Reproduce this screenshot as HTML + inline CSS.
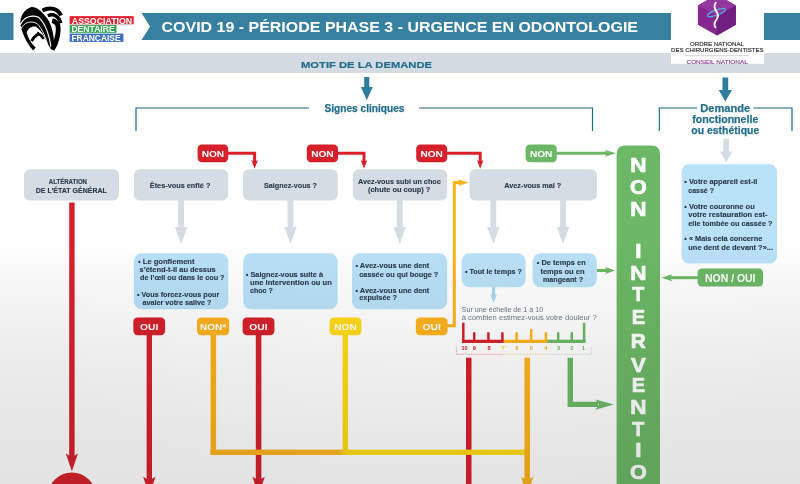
<!DOCTYPE html>
<html lang="fr">
<head>
<meta charset="utf-8">
<title>COVID 19 - Période phase 3 - Urgence en odontologie</title>
<style>
html,body{margin:0;padding:0;background:#fff;}
body{width:800px;height:484px;overflow:hidden;font-family:"Liberation Sans",sans-serif;}
svg{display:block;position:absolute;left:0;top:0;}
text{font-family:"Liberation Sans",sans-serif;}
.b{font-weight:bold;}
.dk{fill:#2b394c;stroke:#2b394c;stroke-width:0.12px;}
.tl{fill:#256e8e;}
.w{fill:#fff;}
</style>
</head>
<body>
<svg width="800" height="484" viewBox="0 0 800 484">
<defs>
<linearGradient id="bg" x1="0" y1="0" x2="0" y2="1">
<stop offset="0" stop-color="#ffffff"/>
<stop offset="0.50" stop-color="#ffffff"/>
<stop offset="0.60" stop-color="#f5f5f5"/>
<stop offset="0.68" stop-color="#f0f0f0"/>
<stop offset="0.765" stop-color="#ebebeb"/>
<stop offset="0.91" stop-color="#e5e5e5"/>
<stop offset="1" stop-color="#e3e3e3"/>
</linearGradient>
<radialGradient id="hl" cx="0.5" cy="0.5" r="0.5">
<stop offset="0" stop-color="#fff" stop-opacity="0.25"/>
<stop offset="1" stop-color="#fff" stop-opacity="0"/>
</radialGradient>
<linearGradient id="hz" x1="210" y1="0" x2="530" y2="0" gradientUnits="userSpaceOnUse">
<stop offset="0" stop-color="#fdb31d"/>
<stop offset="0.40" stop-color="#fdb31d"/>
<stop offset="0.43" stop-color="#ffdb12"/>
<stop offset="1" stop-color="#ffdb12"/>
</linearGradient>
</defs>
<rect x="0" y="0" width="800" height="484" fill="#fff"/>

<!-- ===== HEADER ===== -->
<g id="header">
<rect x="0" y="13" width="13.5" height="27" fill="#38809f"/>
<path d="M141.5 13 H671 V40 H141.5 L150 26.5 Z" fill="#38809f"/>
<rect x="764" y="13" width="36" height="27" fill="#38809f"/>
<text x="161.5" y="32.1" class="b w" font-size="15" textLength="476.5" lengthAdjust="spacingAndGlyphs">COVID 19 - PÉRIODE PHASE 3 - URGENCE EN ODONTOLOGIE</text>
<!-- grey band -->
<rect x="0" y="53" width="800" height="20" fill="#d4dbe3"/>
<text x="301" y="67.5" class="b tl" stroke="#256e8e" stroke-width="0.2" font-size="9.7" textLength="131" lengthAdjust="spacingAndGlyphs">MOTIF DE LA DEMANDE</text>
</g>

<!-- ===== ADF LOGO ===== -->
<g id="adf">
<g transform="translate(14,0) scale(0.1157)" fill="none" stroke-linecap="butt">
<path d="M165 436 C110 372 70 292 56 212 C48 140 90 80 146 62 C200 56 252 108 300 180 C336 250 352 340 346 428 L322 428 C300 400 286 370 272 340 C256 300 230 262 192 232 C156 222 122 240 110 282 C124 336 154 380 188 410 Z" fill="#000"/>
<path d="M54 214 C86 146 150 124 214 150 C266 200 306 300 322 424" stroke="#fff" stroke-width="10"/>
<path d="M58 252 C86 190 150 176 200 204 C246 250 282 340 298 416" stroke="#fff" stroke-width="8"/>
<path d="M152 356 C166 326 184 308 212 294" stroke="#000" stroke-width="24"/>
<path d="M200 282 C226 296 244 314 256 338" stroke="#000" stroke-width="20"/>
<path d="M246 90 C310 58 380 74 406 134" stroke="#000" stroke-width="34"/>
<path d="M292 136 C346 114 390 142 404 200" stroke="#000" stroke-width="30"/>
<path d="M330 178 C378 188 390 222 378 300 C370 346 354 392 330 428" stroke="#000" stroke-width="42"/>
</g>
<rect x="69.6" y="16.1" width="64.1" height="8.2" fill="#e1242f"/>
<rect x="69.6" y="25.1" width="46.9" height="7.7" fill="#2ea650"/>
<rect x="69.6" y="33.6" width="53.8" height="8.3" fill="#3c6fc2"/>
<text x="71.8" y="23.6" class="b w" font-size="8.7" textLength="60.3" lengthAdjust="spacingAndGlyphs">ASSOCIATION</text>
<text x="71.4" y="32.4" class="b w" font-size="8.7" textLength="43.3" lengthAdjust="spacingAndGlyphs">DENTAIRE</text>
<text x="71.4" y="41.1" class="b w" font-size="8.7" textLength="49.2" lengthAdjust="spacingAndGlyphs">FRANÇAISE</text>
</g>

<!-- ===== ORDRE LOGO ===== -->
<g id="ordre">
<rect x="671" y="0" width="93" height="63.8" fill="#fff"/>
<path d="M716.9 -5.3 L735.9 5.4 V24.8 L716.9 35.5 L697.9 24.8 V5.4 Z" fill="#84288f"/>
<path d="M716.9 15 L735.9 5.4 V24.8 L716.9 35.5 Z" fill="#712081"/>
<path d="M716.9 15 L697.9 5.4 L716.9 -5.3 L735.9 5.4 Z" fill="#93389f"/>
<ellipse cx="716.4" cy="12.6" rx="9.5" ry="2.6" fill="none" stroke="#57a6e6" stroke-width="1.2" transform="rotate(-20 716.4 12.6)"/>
<path d="M715.8 2.6 C713 6 714.6 9 717 12.4 C719.4 16 717 19 715 22 C714 24 714.6 26 715.6 27.4" fill="none" stroke="#fff" stroke-width="1.8" stroke-linecap="round"/>
<text x="690" y="45.8" font-size="6" fill="#333" stroke="#333" stroke-width="0.18" textLength="54" lengthAdjust="spacingAndGlyphs">ORDRE NATIONAL</text>
<text x="671.1" y="52.3" font-size="6" fill="#333" stroke="#333" stroke-width="0.18" textLength="92.5" lengthAdjust="spacingAndGlyphs">DES CHIRURGIENS-DENTISTES</text>
<rect x="684.8" y="55.5" width="63.7" height="0.6" fill="#b9b9b9"/>
<text x="686.5" y="63.5" font-size="6" fill="#8a3a98" stroke="#8a3a98" stroke-width="0.12" textLength="61.3" lengthAdjust="spacingAndGlyphs">CONSEIL NATIONAL</text>
</g>

<!-- ===== TOP ARROWS + BRACKETS ===== -->
<g id="top">
<path d="M364.2 77 H369.3 V87 H372.8 L366.8 100 L360.8 87 H364.2 Z" fill="#2f7d9f"/>
<path d="M722.5 77.5 H728.2 V90 H732 L725.3 101.5 L718.7 90 H722.5 Z" fill="#2f7d9f"/>
<path d="M136 131 V108 H309" fill="none" stroke="#1b6585" stroke-width="1.15"/>
<path d="M419 108 H592.5 V131" fill="none" stroke="#1b6585" stroke-width="1.15"/>
<text x="324.5" y="111.6" class="b tl" stroke="#256e8e" stroke-width="0.25" font-size="10" textLength="80" lengthAdjust="spacingAndGlyphs">Signes cliniques</text>
<path d="M659.3 131 V108 H697" fill="none" stroke="#1b6585" stroke-width="1.15"/>
<path d="M753.5 108 H792 V131" fill="none" stroke="#1b6585" stroke-width="1.15"/>
<text x="725.3" y="111.6" class="b tl" stroke="#256e8e" stroke-width="0.25" font-size="10" text-anchor="middle" textLength="50" lengthAdjust="spacingAndGlyphs">Demande</text>
<text x="725.3" y="123.1" class="b tl" stroke="#256e8e" stroke-width="0.25" font-size="10" text-anchor="middle" textLength="66" lengthAdjust="spacingAndGlyphs">fonctionnelle</text>
<text x="725.3" y="134.3" class="b tl" stroke="#256e8e" stroke-width="0.25" font-size="10" text-anchor="middle" textLength="68" lengthAdjust="spacingAndGlyphs">ou esthétique</text>
</g>

<!-- ===== GREY DOWN ARROWS ===== -->
<g id="garrows" fill="#d5dce3">
<path d="M178.2 200 H184 V227 H187.3 L181.1 244 L174.9 227 H178.2 Z"/>
<path d="M287.6 200 H293.4 V227 H296.7 L290.5 244 L284.3 227 H287.6 Z"/>
<path d="M396.8 200 H402.6 V227 H405.9 L399.7 244 L393.5 227 H396.8 Z"/>
<path d="M490.4 200 H496.2 V227 H499.5 L493.3 244 L487.1 227 H490.4 Z"/>
<path d="M560.1 200 H565.9 V227 H569.2 L563 244 L556.8 227 H560.1 Z"/>
<path d="M723.3 138.8 H729.1 V151.5 H732.4 L726.2 162.3 L720 151.5 H723.3 Z"/>
</g>

<!-- ===== LINES ===== -->
<g id="lines">
<!-- red: alteration -->
<rect x="69.2" y="202.5" width="5.4" height="256" fill="#d6212c"/>
<path d="M65.8 453.5 L71.9 457 L78 453.5 L71.9 471.3 Z" fill="#d6212c"/>
<circle cx="71.9" cy="496.5" r="24" fill="#d6212c"/>
<!-- red: OUI 1 -->
<rect x="146.6" y="334" width="5.4" height="150" fill="#d6212c"/>
<path d="M143.1 476.7 L149.3 480.3 L155.5 476.7 L149.3 495 Z" fill="#d6212c"/>
<!-- red: OUI 2 -->
<rect x="255.8" y="334" width="5.6" height="150" fill="#d6212c"/>
<path d="M252.4 476.7 L258.6 480.3 L264.8 476.7 L258.6 495 Z" fill="#d6212c"/>
<!-- red: scale 10 -->
<rect x="466" y="357.7" width="5.5" height="127" fill="#d6212c"/>
<!-- orange NON* vertical -->
<rect x="210.6" y="334" width="5.5" height="121" fill="#fdb31d"/>
<!-- yellow NON vertical -->
<rect x="342.6" y="334" width="5.4" height="121" fill="#ffdb12"/>
<!-- horizontal join -->
<rect x="210.6" y="449.6" width="316" height="5.4" fill="url(#hz)"/>
<!-- orange: scale 5 -->
<rect x="524.4" y="357.7" width="5.6" height="126.3" fill="#fdb31d"/>
<path d="M521 476.7 L527.2 480.3 L533.4 476.7 L527.2 495 Z" fill="#fdb31d"/>
<!-- green scale -> bar -->
<path d="M567.6 357.7 H573 V401.8 H598 V407.1 H567.6 Z" fill="#6cb866"/>
<path d="M595.5 399.4 L613.8 404.5 L595.5 409.8 L599 404.5 Z" fill="#6cb866"/>
<!-- orange OUI3 -> Avez-vous mal -->
<path d="M447 325.8 H454.3 V182.6 H460" fill="none" stroke="#fdb31d" stroke-width="3"/>
<path d="M458 179.2 L468.8 182.6 L458 186 L460.2 182.6 Z" fill="#fdb31d"/>
<!-- red NON arrows -->
<g fill="none" stroke="#d6212c" stroke-width="3">
<path d="M227 153.3 H254.6 V162"/>
<path d="M337 153.3 H364 V162"/>
<path d="M446 153.3 H480.2 V162"/>
</g>
<g fill="#d6212c">
<path d="M251.3 160 L254.6 162 L257.9 160 L254.6 168.8 Z"/>
<path d="M360.7 160 L364 162 L367.3 160 L364 168.8 Z"/>
<path d="M476.9 160 L480.2 162 L483.5 160 L480.2 168.8 Z"/>
</g>
<!-- green NON arrow -->
<path d="M556 153.2 H607" fill="none" stroke="#6cb866" stroke-width="3"/>
<path d="M604.8 149.7 L616 153.2 L604.8 156.7 L607 153.2 Z" fill="#6cb866"/>
<!-- green de temps en temps arrow -->
<path d="M596.5 270.5 H607" fill="none" stroke="#6cb866" stroke-width="3"/>
<path d="M605 267.1 L615.3 270.5 L605 273.9 L607 270.5 Z" fill="#6cb866"/>
<!-- green NON/OUI arrow -->
<path d="M700 277.7 H670" fill="none" stroke="#6cb866" stroke-width="3"/>
<path d="M672.3 274.2 L661.3 277.7 L672.3 281.2 L670 277.7 Z" fill="#6cb866"/>
<!-- small blue arrow -->
<path d="M492 287 H495.2 V294.5 H497 L493.6 302.8 L490.2 294.5 H492 Z" fill="#a9d7f0"/>
</g>

<!-- ===== GREEN BAR ===== -->
<g id="bar">
<path d="M616.6 484 V154 Q616.6 145.5 625 145.5 H651.6 Q660 145.5 660 154 V484 Z" fill="#6cb866"/>
<g class="b w" stroke="#fff" stroke-width="0.7" font-size="19.6" text-anchor="middle">
<text transform="translate(638.3,171.8) scale(1.15,1)" x="0" y="0">N</text>
<text transform="translate(638.3,194) scale(1.1,1)" x="0" y="0">O</text>
<text transform="translate(638.3,215.8) scale(1.15,1)" x="0" y="0">N</text>
<text transform="translate(638.3,257.8) scale(1.15,1)" x="0" y="0">I</text>
<text transform="translate(638.3,279.8) scale(1.15,1)" x="0" y="0">N</text>
<text transform="translate(638.3,301.3) scale(1.0,1)" x="0" y="0">T</text>
<text transform="translate(638.3,324.2) scale(1.02,1)" x="0" y="0">E</text>
<text transform="translate(638.3,347.7) scale(1.06,1)" x="0" y="0">R</text>
<text transform="translate(638.3,371.5) scale(1.13,1)" x="0" y="0">V</text>
<text transform="translate(638.3,392.4) scale(1.02,1)" x="0" y="0">E</text>
<text transform="translate(638.3,414) scale(1.15,1)" x="0" y="0">N</text>
<text transform="translate(638.3,435.8) scale(1.0,1)" x="0" y="0">T</text>
<text transform="translate(638.3,457.2) scale(1.15,1)" x="0" y="0">I</text>
<text transform="translate(638.3,478.8) scale(1.1,1)" x="0" y="0">O</text>
</g>
</g>

<!-- ===== GREY BOXES ===== -->
<g id="gboxes">
<g fill="#d5dce3">
<rect x="24" y="169.2" width="95" height="31.3" rx="6"/>
<rect x="133.8" y="169.2" width="94.4" height="31.3" rx="6"/>
<rect x="243" y="169.2" width="94.8" height="31.3" rx="6"/>
<rect x="352.8" y="169.2" width="94.4" height="31.3" rx="6"/>
<rect x="469.5" y="169.2" width="127.4" height="31.3" rx="6"/>
</g>
<g class="b dk" font-size="6.5">
<text transform="translate(48.8,184.3) scale(1,1.16)" x="0" y="0" font-size="6.25" textLength="38.2" lengthAdjust="spacingAndGlyphs">ALTÉRATION</text>
<text transform="translate(35.8,192.6) scale(1,1.16)" x="0" y="0" font-size="6.25" textLength="71" lengthAdjust="spacingAndGlyphs">DE L’ÉTAT GÉNÉRAL</text>
<text x="149.8" y="187.8" textLength="60.6" lengthAdjust="spacingAndGlyphs">Êtes-vous enflé ?</text>
<text x="264" y="187.8" textLength="53" lengthAdjust="spacingAndGlyphs">Saignez-vous ?</text>
<text x="358" y="184.3" textLength="82.8" lengthAdjust="spacingAndGlyphs">Avez-vous subi un choc</text>
<text x="368" y="192" textLength="62.4" lengthAdjust="spacingAndGlyphs">(chute ou coup) ?</text>
<text x="504.3" y="187.8" textLength="57" lengthAdjust="spacingAndGlyphs">Avez-vous mal ?</text>
</g>
</g>

<!-- ===== BLUE BOXES ===== -->
<g id="bboxes">
<g fill="#b9e1f7">
<rect x="133.8" y="253.3" width="94.5" height="56" rx="8"/>
<rect x="243.2" y="253.3" width="94.4" height="56" rx="8"/>
<rect x="352" y="253.3" width="95.2" height="56" rx="8"/>
<rect x="461.6" y="253.3" width="64" height="34" rx="8"/>
<rect x="532.6" y="253.3" width="64.2" height="34" rx="8"/>
<rect x="681.5" y="164.2" width="95.5" height="99.2" rx="7.5"/>
</g>
<g class="b dk" font-size="6.5">
<text x="138" y="264.3" textLength="56.5" lengthAdjust="spacingAndGlyphs">• Le gonflement</text>
<text x="139.5" y="272.3" textLength="76.2" lengthAdjust="spacingAndGlyphs">s’étend-t-il au dessus</text>
<text x="140" y="280.1" textLength="84.5" lengthAdjust="spacingAndGlyphs">de l’œil ou dans le cou ?</text>
<text x="137" y="296.8" textLength="82.3" lengthAdjust="spacingAndGlyphs">• Vous forcez-vous pour</text>
<text x="142.5" y="305" textLength="68.8" lengthAdjust="spacingAndGlyphs">avaler votre salive ?</text>

<text x="245.8" y="276.8" textLength="77.2" lengthAdjust="spacingAndGlyphs">• Saignez-vous suite à</text>
<text x="250" y="284.8" textLength="81.8" lengthAdjust="spacingAndGlyphs">une intervention ou un</text>
<text x="250" y="292.8" textLength="22.8" lengthAdjust="spacingAndGlyphs">choc ?</text>

<text x="355.5" y="268" textLength="73.8" lengthAdjust="spacingAndGlyphs">• Avez-vous une dent</text>
<text x="359.3" y="276.5" textLength="79" lengthAdjust="spacingAndGlyphs">cassée ou qui bouge ?</text>
<text x="355.5" y="292.5" textLength="73.8" lengthAdjust="spacingAndGlyphs">• Avez-vous une dent</text>
<text x="359.3" y="300.3" textLength="37.7" lengthAdjust="spacingAndGlyphs">expulsée ?</text>

<text x="464.9" y="273.8" textLength="57" lengthAdjust="spacingAndGlyphs">• Tout le temps ?</text>

<text x="536.8" y="265.3" textLength="48.9" lengthAdjust="spacingAndGlyphs">• De temps en</text>
<text x="540.4" y="273.8" textLength="44.1" lengthAdjust="spacingAndGlyphs">temps ou en</text>
<text x="543" y="281.7" textLength="40" lengthAdjust="spacingAndGlyphs">mangeant ?</text>

<text x="684.3" y="183.6" textLength="73" lengthAdjust="spacingAndGlyphs">• Votre appareil est-il</text>
<text x="688.3" y="192.6" textLength="25.6" lengthAdjust="spacingAndGlyphs">cassé ?</text>
<text x="684.3" y="208.5" textLength="70.4" lengthAdjust="spacingAndGlyphs">• Votre couronne ou</text>
<text x="688.3" y="217" textLength="79.3" lengthAdjust="spacingAndGlyphs">votre restauration est-</text>
<text x="688.3" y="225.6" textLength="84.2" lengthAdjust="spacingAndGlyphs">elle tombée ou cassée ?</text>
<text x="684.3" y="241.4" textLength="78" lengthAdjust="spacingAndGlyphs">• « Mais cela concerne</text>
<text x="688.3" y="250" textLength="84.7" lengthAdjust="spacingAndGlyphs">une dent de devant ?»...</text>
</g>
</g>

<!-- ===== BADGES ===== -->
<g id="badges">
<rect x="197.6" y="144.6" width="30.6" height="17.6" rx="4.2" fill="#d6212c"/>
<rect x="306.8" y="144.6" width="31.2" height="17.6" rx="4.2" fill="#d6212c"/>
<rect x="416.2" y="144.6" width="31" height="17.6" rx="4.2" fill="#d6212c"/>
<rect x="525.6" y="144.6" width="31.2" height="17.6" rx="4.2" fill="#6cb866"/>
<rect x="133.3" y="317.5" width="31.8" height="17.8" rx="4.2" fill="#d6212c"/>
<rect x="197" y="317.5" width="32.2" height="17.8" rx="4.2" fill="#fdb31d"/>
<rect x="242.6" y="317.5" width="31.8" height="17.8" rx="4.2" fill="#d6212c"/>
<rect x="329.6" y="317.5" width="31.8" height="17.8" rx="4.2" fill="#ffdb12"/>
<rect x="415.8" y="317.5" width="31.8" height="17.8" rx="4.2" fill="#fdb31d"/>
<rect x="697.6" y="268.4" width="65.4" height="18" rx="4.2" fill="#6cb866"/>
<g class="b w" font-size="9.2" text-anchor="middle">
<text x="212.9" y="156.8" textLength="22.5" lengthAdjust="spacingAndGlyphs">NON</text>
<text x="322.4" y="156.8" textLength="22.5" lengthAdjust="spacingAndGlyphs">NON</text>
<text x="431.7" y="156.8" textLength="22.5" lengthAdjust="spacingAndGlyphs">NON</text>
<text x="541.2" y="156.8" textLength="22.5" lengthAdjust="spacingAndGlyphs">NON</text>
<text x="149.2" y="329.9" textLength="18.3" lengthAdjust="spacingAndGlyphs">OUI</text>
<text x="213.1" y="329.9" textLength="26" lengthAdjust="spacingAndGlyphs">NON*</text>
<text x="258.5" y="329.9" textLength="18.3" lengthAdjust="spacingAndGlyphs">OUI</text>
<text x="345.5" y="329.9" textLength="22.5" lengthAdjust="spacingAndGlyphs">NON</text>
<text x="431.7" y="329.9" textLength="18.3" lengthAdjust="spacingAndGlyphs">OUI</text>
<text x="730.3" y="281.5" font-size="10.2" textLength="50.4" lengthAdjust="spacingAndGlyphs">NON / OUI</text>
</g>
</g>

<!-- ===== PAIN SCALE ===== -->
<g id="scale">
<text x="461.7" y="311.9" font-size="6.6" fill="#6d7986" textLength="81.5" lengthAdjust="spacingAndGlyphs">Sur une échelle de 1 à 10</text>
<text x="461.7" y="320" font-size="6.6" fill="#6d7986" textLength="135" lengthAdjust="spacingAndGlyphs">à combien estimez-vous votre douleur ?</text>
<g fill="none" stroke-width="2.5">
<path d="M463.3 322.8 V341.4 M474.2 332.3 V341 M488.4 332.3 V341 M502.4 332.3 V341" stroke="#d6212c"/>
<path d="M516.6 332.3 V341 M531.2 329.3 V341 M545.9 332.3 V341" stroke="#fdb31d"/>
<path d="M584.1 341.4 V322.8 M558.2 332.3 V341 M571.8 332.3 V341" stroke="#6cb866"/>
</g>
<rect x="461.9" y="339.7" width="41.9" height="3.3" fill="#d6212c"/>
<rect x="503.8" y="339.7" width="43.4" height="3.3" fill="#fdb31d"/>
<rect x="547.2" y="339.7" width="38.3" height="3.3" fill="#6cb866"/>
<g class="b" font-size="5.6" text-anchor="middle">
<text x="464.5" y="350" fill="#d6212c">10</text>
<text x="474.4" y="350" fill="#d6212c">9</text>
<text x="489" y="350" fill="#d6212c">8</text>
<text x="503.2" y="350" fill="#ffdb12">7</text>
<text x="516.8" y="350" fill="#f0b41f">6</text>
<text x="531.2" y="350" fill="#fdb31d">5</text>
<text x="545.9" y="350" fill="#f0b41f">4</text>
<text x="558.6" y="350" fill="#6cb866">3</text>
<text x="571.8" y="350" fill="#6cb866">2</text>
<text x="583.4" y="350" fill="#6cb866">1</text>
</g>
<g fill="none" stroke-width="0.6" stroke-dasharray="0.9 0.7" opacity="0.75">
<path d="M456.4 346.4 V354.3 H503" stroke="#d6212c"/>
<path d="M503 354.3 H548" stroke="#f0b41f"/>
<path d="M548 354.3 H591.3 V346.4" stroke="#7dbf7e"/>
</g>
</g>
<!-- shading overlay -->
<g style="mix-blend-mode:multiply">
<rect x="0" y="0" width="800" height="484" fill="url(#bg)"/>
<ellipse cx="420" cy="310" rx="400" ry="200" fill="url(#hl)"/>
</g>
</svg>
</body>
</html>
